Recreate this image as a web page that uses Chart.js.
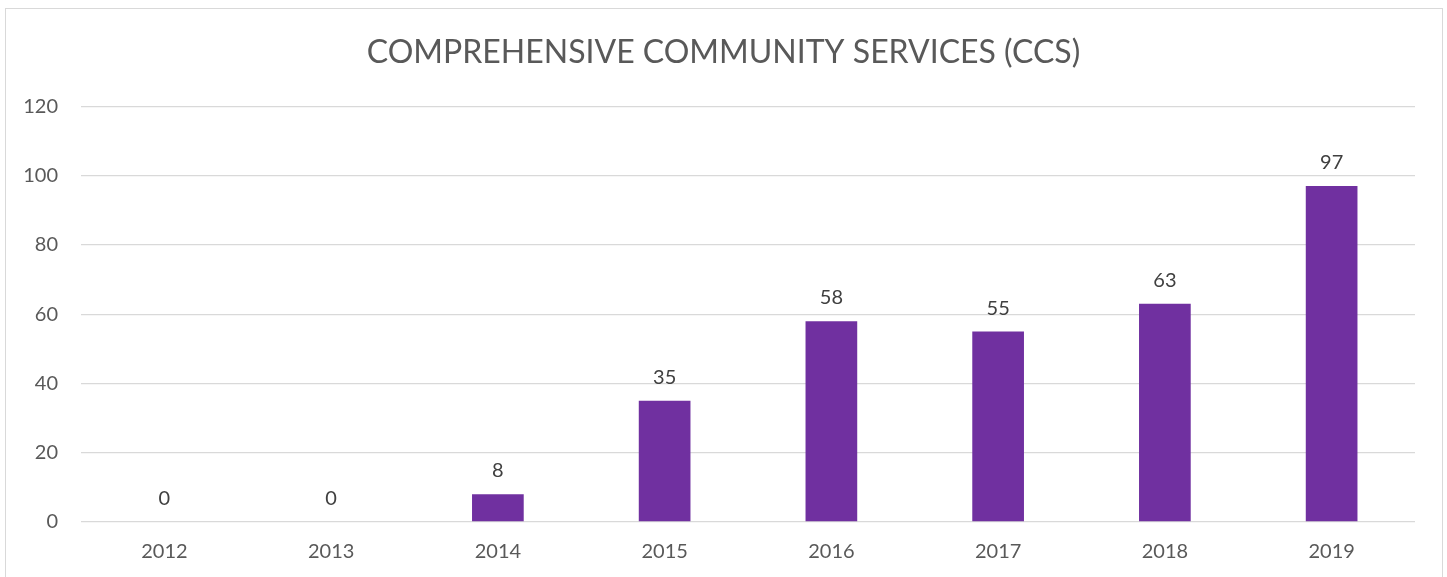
<!DOCTYPE html>
<html>
<head>
<meta charset="utf-8">
<script src="https://cdn.jsdelivr.net/npm/chart.js@4"></script>
<style>
  html, body { margin: 0; padding: 0; background: #fff; overflow: hidden; }
  #wrap { position: relative; width: 1447px; height: 577px; }
  #frame { position: absolute; left: 5px; top: 8px; width: 1438px; height: 600px;
           border: 1.5px solid #d9d9d9; box-sizing: border-box; pointer-events: none; }
</style>
</head>
<body>
<div id="wrap">
  <canvas id="ccs" width="1447" height="577"></canvas>
  <div id="frame"></div>
</div>
<script>
// Chart data
const years = ["2012", "2013", "2014", "2015", "2016", "2017", "2018", "2019"];
const ccsCounts = [0, 0, 8, 35, 58, 55, 63, 97];
const yTicks = [0, 20, 40, 60, 80, 100, 120];

const textColor = "#595959";
const gridColor = "#d9d9d9";

// Draw the value above each bar.
const barLabels = {
  id: "barLabels",
  afterDatasetsDraw(chart) {
    const ctx = chart.ctx;
    const meta = chart.getDatasetMeta(0);
    ctx.save();
    ctx.font = "20px Lato";
    ctx.fillStyle = "#404040";
    ctx.textAlign = "center";
    ctx.textBaseline = "alphabetic";
    meta.data.forEach((bar, i) => {
      ctx.fillText(String(ccsCounts[i]), bar.x, bar.y - 17);
    });
    ctx.restore();
  }
};

new Chart(document.getElementById("ccs"), {
  type: "bar",
  data: {
    labels: years,
    datasets: [{
      data: ccsCounts,
      backgroundColor: "#7030A0",
      barPercentage: 0.31,
      categoryPercentage: 1.0
    }]
  },
  options: {
    responsive: false,
    animation: false,
    layout: { padding: 0 },
    plugins: {
      legend: { display: false },
      tooltip: { enabled: false },
      title: {
        display: true,
        text: "COMPREHENSIVE COMMUNITY SERVICES (CCS)",
        color: textColor,
        font: { family: "Lato", size: 32, weight: "normal" },
        padding: { top: 33, bottom: 35 }
      }
    },
    scales: {
      x: {
        grid: { display: false, drawTicks: false },
        border: { display: false },
        ticks: { color: textColor, font: { family: "Lato", size: 20 }, padding: 18 },
        afterFit: (scale) => { scale.height = 55; }
      },
      y: {
        min: 0,
        max: 120,
        afterBuildTicks: (scale) => { scale.ticks = yTicks.map(v => ({ value: v })); },
        grid: { color: gridColor, lineWidth: 1.3, drawTicks: false },
        border: { display: false },
        ticks: { color: textColor, font: { family: "Lato", size: 20 }, padding: 23 },
        afterFit: (scale) => { scale.width = 81; }
      },
      // empty right axis, only keeps the right margin of the plot
      yRight: {
        position: "right",
        grid: { display: false, drawTicks: false },
        border: { display: false },
        ticks: { display: false },
        afterFit: (scale) => { scale.width = 32; }
      }
    }
  },
  plugins: [barLabels]
});
</script>
</body>
</html>
